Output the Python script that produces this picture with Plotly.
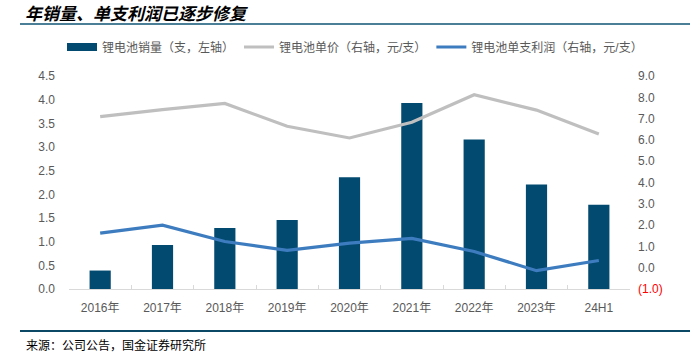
import plotly.graph_objects as go

categories = ["2016年", "2017年", "2018年", "2019年", "2020年", "2021年", "2022年", "2023年", "24H1"]
sales = [0.39, 0.93, 1.29, 1.46, 2.36, 3.93, 3.16, 2.21, 1.78]
price = [7.09, 7.42, 7.71, 6.64, 6.09, 6.83, 8.12, 7.40, 6.28]
profit = [1.62, 2.00, 1.23, 0.81, 1.15, 1.38, 0.76, -0.14, 0.34]

left_ticks = [0, 0.5, 1.0, 1.5, 2.0, 2.5, 3.0, 3.5, 4.0, 4.5]
right_ticks = [-1, 0, 1, 2, 3, 4, 5, 6, 7, 8, 9]
right_ticktext = ['<span style="color:#ff0000">(1.0)</span>'] + [f"{v:.1f}" for v in right_ticks[1:]]

FONT = "Liberation Sans, Arial, Noto Sans CJK SC, sans-serif"
GREY_TXT = "#595959"
BAR_COLOR = "#034a70"

W, H = 694, 362
L, R, T, B = 69, 64, 76, 73
pw, ph = W - L - R, H - T - B

def px(x):
    return (x - L) / pw

def py(y):
    return (H - B - y) / ph

fig = go.Figure()
fig.add_trace(go.Bar(x=categories, y=sales, name="锂电池销量（支，左轴）", showlegend=False,
                     marker=dict(color=BAR_COLOR, line=dict(width=0)), width=0.34, yaxis="y"))
fig.add_trace(go.Scatter(x=[None], y=[None], name="锂电池销量（支，左轴）", mode="lines",
                         line=dict(color=BAR_COLOR, width=8), yaxis="y", hoverinfo="skip"))
fig.add_trace(go.Scatter(x=categories, y=price, name="锂电池单价（右轴，元/支）", mode="lines",
                         line=dict(color="#bfbfbf", width=3.2), yaxis="y2"))
fig.add_trace(go.Scatter(x=categories, y=profit, name="锂电池单支利润（右轴，元/支）", mode="lines",
                         line=dict(color="#3e7cc0", width=3.2), yaxis="y2"))

fig.update_layout(
    width=W, height=H,
    margin=dict(l=L, r=R, t=T, b=B),
    paper_bgcolor="white", plot_bgcolor="white",
    font=dict(family=FONT, size=12, color=GREY_TXT),
    showlegend=True,
    legend=dict(orientation="h", x=px(62), y=py(47), xanchor="left", yanchor="middle",
                font=dict(size=12, color=GREY_TXT), itemwidth=30, tracegroupgap=0,
                bgcolor="rgba(0,0,0,0)"),
    xaxis=dict(showline=True, linecolor="#d9d9d9", linewidth=1, ticks="inside",
               tickson="boundaries", ticklen=4, tickcolor="#d9d9d9",
               tickfont=dict(size=12, color=GREY_TXT), showgrid=False, zeroline=False,
               ticklabelstandoff=8),
    yaxis=dict(range=[0, 4.5], tickvals=left_ticks, ticktext=[f"{v:.1f}" for v in left_ticks],
               showgrid=False, zeroline=False, showline=False, ticks="",
               tickfont=dict(size=12, color=GREY_TXT), ticklabelstandoff=13),
    yaxis2=dict(range=[-1, 9], overlaying="y", side="right", tickvals=right_ticks,
                ticktext=right_ticktext, showgrid=False, zeroline=False, showline=False, ticks="",
                tickfont=dict(size=12, color=GREY_TXT), ticklabelstandoff=7),
)

fig.add_annotation(text="<b><i>年销量、单支利润已逐步修复</i></b>", xref="paper", yref="paper",
                   x=px(24), y=py(12), xanchor="left", yanchor="middle", showarrow=False,
                   borderpad=0, font=dict(family="Noto Sans CJK SC", size=17, color="#000000"))
fig.add_annotation(text="来源：公司公告，国金证券研究所", xref="paper", yref="paper",
                   x=px(24), y=py(344), xanchor="left", yanchor="middle", showarrow=False,
                   font=dict(family="Noto Sans CJK SC", size=12, color="#000000"))

fig.add_shape(type="line", xref="paper", yref="paper", x0=px(20), x1=px(690), y0=py(24), y1=py(24),
              line=dict(color="#4b7f98", width=2))
fig.add_shape(type="line", xref="paper", yref="paper", x0=px(20), x1=px(690), y0=py(331), y1=py(331),
              line=dict(color="#0b4866", width=2))

fig.write_html("out.html", config={"displayModeBar": False},
               post_script="document.body.style.margin='0px';document.body.style.overflow='hidden';")
